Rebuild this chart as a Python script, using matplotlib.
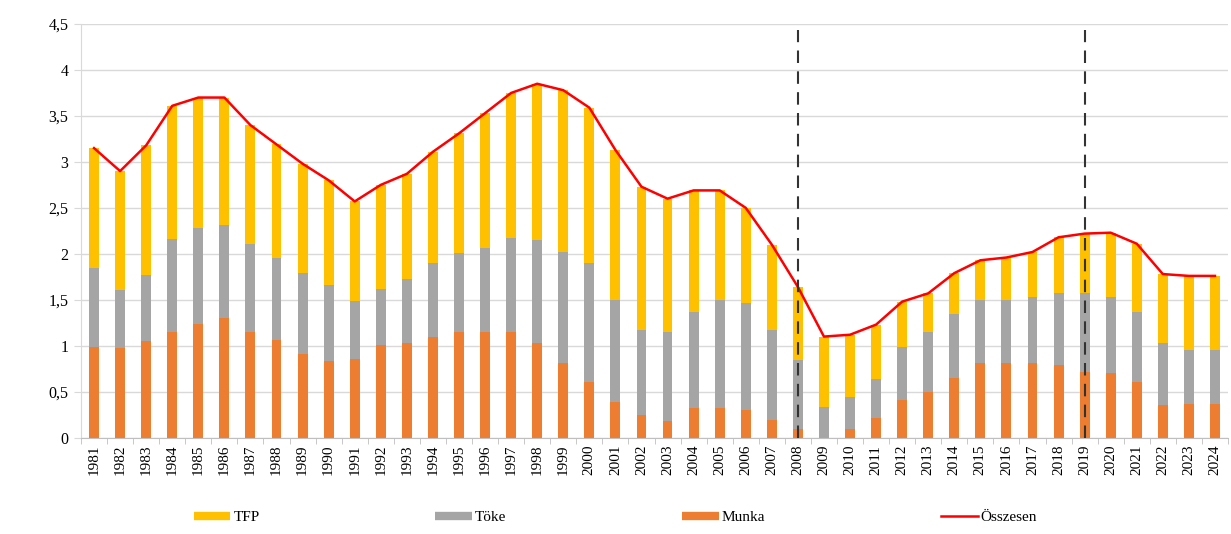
import matplotlib
matplotlib.use("Agg")
import matplotlib.pyplot as plt
from matplotlib.lines import Line2D
import numpy as np

plt.rcParams['font.family'] = ['Liberation Serif', 'DejaVu Serif']

evek = list(range(1981, 2025))

munka = [0.99, 0.98, 1.05, 1.15, 1.24, 1.30, 1.15, 1.06, 0.91, 0.83,
         0.86, 1.01, 1.03, 1.09, 1.15, 1.15, 1.15, 1.03, 0.81, 0.61,
         0.39, 0.25, 0.18, 0.32, 0.32, 0.30, 0.19, 0.10, 0.00, 0.10,
         0.21, 0.41, 0.50, 0.65, 0.81, 0.81, 0.81, 0.79, 0.72, 0.70,
         0.61, 0.36, 0.37, 0.37]
toke = [0.86, 0.63, 0.72, 1.01, 1.04, 1.01, 0.96, 0.89, 0.88, 0.83,
        0.63, 0.61, 0.70, 0.81, 0.86, 0.91, 1.02, 1.12, 1.21, 1.29,
        1.11, 0.92, 0.97, 1.05, 1.18, 1.16, 0.98, 0.75, 0.33, 0.34,
        0.43, 0.58, 0.65, 0.70, 0.69, 0.69, 0.72, 0.78, 0.85, 0.83,
        0.76, 0.67, 0.58, 0.58]
tfp = [1.30, 1.29, 1.41, 1.45, 1.42, 1.39, 1.29, 1.24, 1.19, 1.14,
       1.08, 1.13, 1.14, 1.21, 1.30, 1.47, 1.58, 1.70, 1.76, 1.69,
       1.63, 1.56, 1.45, 1.32, 1.19, 1.04, 0.93, 0.79, 0.77, 0.68,
       0.59, 0.49, 0.42, 0.44, 0.43, 0.46, 0.49, 0.61, 0.65, 0.70,
       0.74, 0.75, 0.81, 0.81]
szaggatott_evek = [2008, 2019]

osszesen = np.array(munka) + np.array(toke) + np.array(tfp)

c_tfp = '#FFC000'
c_toke = '#A5A5A5'
c_munka = '#ED7D31'
c_ossz = '#FF0000'

fig = plt.figure(figsize=(12.31, 5.34), dpi=100)
ax = fig.add_axes([81 / 1231, 1 - 437.7 / 534, (1228 - 81) / 1231, (437.7 - 24) / 534])

x = np.arange(len(evek))
w = 0.38
ax.bar(x, munka, w, color=c_munka, zorder=2)
ax.bar(x, toke, w, bottom=munka, color=c_toke, zorder=2)
ax.bar(x, tfp, w, bottom=np.array(munka) + np.array(toke), color=c_tfp, zorder=2)
ax.plot(x, osszesen, color=c_ossz, lw=1.8, zorder=3)

for ev in szaggatott_evek:
    i = evek.index(ev)
    ax.vlines(i, 0, 4.43, colors='#333333', linestyles=(0, (6, 4)), lw=1.5, zorder=4)

ax.set_xlim(-0.5, len(evek) - 0.5)
ax.set_ylim(0, 4.5)
yt = np.arange(0, 4.51, 0.5)
ax.set_yticks(yt)
ax.set_yticklabels([('%g' % v).replace('.', ',') for v in yt], fontsize=11.5)
ax.set_xticks(x)
ax.set_xticklabels([str(e) for e in evek], rotation=90, fontsize=11)
ax.set_xticks(np.arange(-0.5, len(evek), 1), minor=True)
ax.tick_params(axis='x', which='major', length=0, pad=5)
ax.tick_params(axis='x', which='minor', length=4, color='#bfbfbf')
ax.tick_params(axis='y', length=5, color='#d9d9d9', pad=4)

ax.grid(axis='y', color='#d9d9d9', lw=1, zorder=0)
ax.set_axisbelow(True)
for s in ['top', 'right']:
    ax.spines[s].set_visible(False)
ax.spines['left'].set_color('#d9d9d9')
ax.spines['bottom'].set_color('#bfbfbf')

handles = [
    Line2D([], [], color=c_tfp, lw=6, solid_capstyle='butt'),
    Line2D([], [], color=c_toke, lw=6, solid_capstyle='butt'),
    Line2D([], [], color=c_munka, lw=6, solid_capstyle='butt'),
    Line2D([], [], color=c_ossz, lw=1.8),
]
fig.legend(handles, ['TFP', 'Töke', 'Munka', 'Összesen'], loc='center',
           bbox_to_anchor=(0.5, 1 - 517 / 534), ncol=4, frameon=False,
           fontsize=11, handlelength=2.4, handletextpad=0.2, columnspacing=11.5)

fig.savefig('out.png', dpi=100)
